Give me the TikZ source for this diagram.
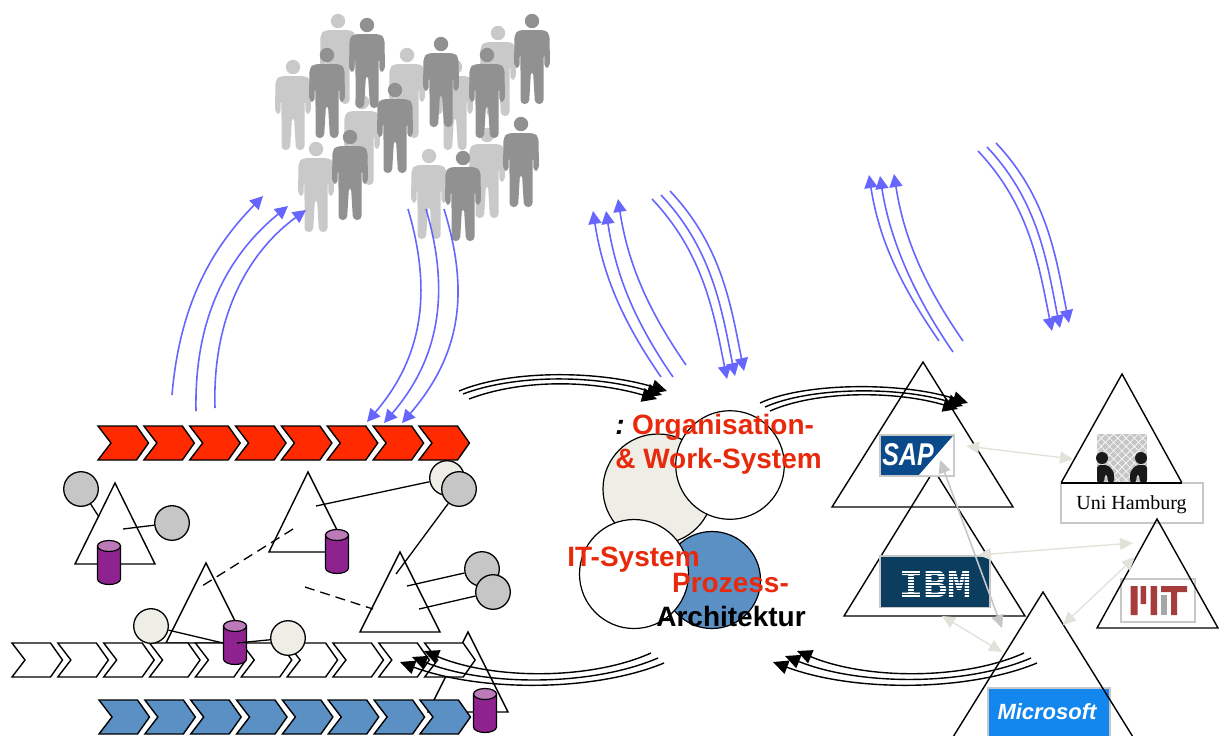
\documentclass[tikz,border=0pt]{standalone}
\usepackage{fontspec}
\setmainfont{Liberation Sans}
\setmonofont{Liberation Mono}
\newfontfamily\unifont{Liberation Serif}
\usetikzlibrary{arrows.meta}

\definecolor{chevred}{HTML}{FF2A00}
\definecolor{chevblue}{HTML}{5B90C5}
\definecolor{bubgrey}{HTML}{C6C6C6}
\definecolor{bubcream}{HTML}{EEEEE6}
\definecolor{dbbody}{HTML}{8E2390}
\definecolor{dbtop}{HTML}{BC7AB8}
\definecolor{flowblue}{HTML}{6666FF}
\definecolor{labelred}{HTML}{E8290B}
\definecolor{logoedge}{HTML}{C8C8C8}
\definecolor{sapblue}{HTML}{0A4A8A}
\definecolor{ibmblue}{HTML}{0B3D5F}
\definecolor{msblue}{HTML}{1487EE}
\definecolor{mitred}{HTML}{A63C3C}

\tikzset{
  triline/.style={draw=black, line width=0.7pt},
  chevline/.style={draw=black, line width=0.7pt},
  linkline/.style={draw=black, line width=0.65pt},
  dbline/.style={draw=black, line width=0.6pt},
  bub/.style={circle, draw=black, line width=0.65pt, minimum size=17.3pt, inner sep=0pt},
  bigbub/.style={circle, draw=black, line width=0.6pt, inner sep=0pt},
  flowup/.style={draw=flowblue, line width=0.8pt, -{Triangle[length=6.5pt,width=6.5pt]}},
  flowblack/.style={draw=black, line width=0.7pt, -{Triangle[length=7.5pt,width=7pt]}},
  linkcream/.style={draw=bubcream!95!black, line width=0.7pt, {Triangle[length=6.5pt,width=6pt]}-{Triangle[length=6.5pt,width=6pt]}},
  linkgrey/.style={draw=bubgrey, line width=0.8pt, {Triangle[length=6.5pt,width=6pt]}-{Triangle[length=6.5pt,width=6pt]}},
  biglabel/.style={font=\fontsize{14}{16}\selectfont\bfseries, inner sep=0pt},
}

% x, y of the head, colour
\newcommand{\person}[3]{
  \fill[#3] (#1,#2) circle [radius=7.2];
  \begin{scope}[shift={(#1,#2)}]
    \fill[#3, rounded corners=2pt] (-13,9) -- (13,9) -- (17.5,13) -- (18,46) -- (12.5,47.5) -- (12,24) -- (11.5,47) -- (11.5,83) -- (3,83) -- (1,50) -- (-1,50) -- (-3,83) -- (-11.5,83) -- (-11.5,47) -- (-12,24) -- (-12.5,47.5) -- (-18,46) -- (-17.5,13) -- cycle;
  \end{scope}
}

% fill, x, y, how many
\newcommand{\chevrons}[4]{
  \foreach \i in {1,...,#4} {
    \pgfmathsetmacro{\cx}{#2+45.85*(\i-1)}
    \draw[chevline, fill=#1] (\cx,#3) -- ++(38.5,0) -- ++(12,17) -- ++(-12,17) -- ++(-38.5,0) -- ++(13,-17) -- cycle;
  }
}

% x, y of the middle of the top
\newcommand{\dbcan}[2]{
  \draw[dbline, fill=dbbody] (#1,#2) ++(-11.5,0) -- ++(0,33) arc [start angle=180, end angle=0, x radius=11.5, y radius=5.5] -- ++(0,-33) -- cycle;
  \draw[dbline, fill=dbtop] (#1,#2) ellipse [x radius=11.5, y radius=5.5];
}

\begin{document}
\begin{tikzpicture}[x=0.5pt, y=-0.5pt]
\useasboundingbox (0,0) rectangle (1219,735);

\foreach \px/\py in {338/21, 293/67, 407/55, 498/33, 362/102, 455/67, 487/135, 316/149, 429/156}
  \person{\px}{\py}{bubgrey!95!white};
\foreach \px/\py in {367/25, 327/55, 441/44, 532/21, 487/55, 395/90, 350/137, 521/124, 463/158}
  \person{\px}{\py}{black!43};

\draw[triline] (115,483) -- (75,564) -- (155,564) -- cycle;
\draw[triline] (308,472) -- (269,552) -- (348,552) -- cycle;
\draw[triline] (206,563) -- (166,643) -- (246,643) -- cycle;
\draw[triline] (400,552) -- (360,632) -- (440,632) -- cycle;
\draw[triline] (468,632) -- (428,712) -- (508,712) -- cycle;

\chevrons{chevred}{98}{426}{8}
\chevrons{white}{12}{643}{10}
\chevrons{chevblue}{99}{700}{8}

\dbcan{109}{546}
\dbcan{337}{535}
\dbcan{235}{626}
\dbcan{485}{694}

\node (bubA) [bub, fill=bubgrey] at (81,489) {};
\node (bubB) [bub, fill=bubgrey] at (172,523) {};
\node (bubC) [bub, fill=bubcream] at (447,478) {};
\node (bubD) [bub, fill=bubgrey] at (459,489) {};
\node (bubE) [bub, fill=bubgrey] at (482,569) {};
\node (bubF) [bub, fill=bubgrey] at (493,592) {};
\node (bubG) [bub, fill=bubcream] at (151,626) {};
\node (bubH) [bub, fill=bubcream] at (288,638) {};

\coordinate (triA) at (99,517);
\coordinate (triB) at (123,529);
\coordinate (triC) at (316,506);
\coordinate (triD) at (396,574);
\coordinate (triE) at (407,586);
\coordinate (triF) at (419,609);
\coordinate (cylG) at (223,643);
\coordinate (cylH) at (237,643);
\coordinate (dashA) at (293,529);
\coordinate (dashB) at (202,586);
\coordinate (dashC) at (305,587);
\coordinate (dashD) at (373,609);

\draw[linkline] (bubA) -- (triA);
\draw[linkline] (bubB) -- (triB);
\draw[linkline] (bubC) -- (triC);
\draw[linkline] (bubD) -- (triD);
\draw[linkline] (bubE) -- (triE);
\draw[linkline] (bubF) -- (triF);
\draw[linkline] (bubG) -- (cylG);
\draw[linkline] (bubH) -- (cylH);
\draw[linkline, dash pattern=on 5pt off 3pt] (dashA) -- (dashB);
\draw[linkline, dash pattern=on 5pt off 3pt] (dashC) -- (dashD);

\node (orgbub) [bigbub, fill=bubcream, minimum size=55pt] at (658,489) {};
\node (workbub) [bigbub, fill=white, minimum size=54.3pt] at (730,465) {};
\node (procbub) [bigbub, fill=chevblue, minimum size=48.5pt] at (712,580) {};
\node (itbub) [bigbub, fill=white, minimum size=54.5pt] at (634,574) {};

\node (colon) [biglabel, font=\fontsize{14}{16}\selectfont\bfseries\itshape] at (620,427) {:};
\node (orglabel) [biglabel, text=labelred] at (723,427) {Organisation-};
\node (worklabel) [biglabel, text=labelred] at (718.5,461) {\& Work-System};
\node (itlabel) [biglabel, text=labelred] at (633.5,560) {IT-System};
\node (proclabel) [biglabel, text=labelred] at (730.5,583) {Prozess-};
\node (archlabel) [biglabel] at (731,616) {Architektur};

\draw[triline] (923,362) -- (832,507) -- (1013,507) -- cycle;
\draw[triline] (934,470) -- (844,616) -- (1025,616) -- cycle;
\draw[triline] (1122,374) -- (1061,483) -- (1182,483) -- cycle;

\draw[draw=logoedge, fill=sapblue, line width=0.6pt] (880,435) rectangle (954,476);
\fill[white] (953,436) -- (953,475) -- (919,475) -- cycle;
\node (saplogo) [text=white, inner sep=0pt, font=\fontsize{15}{15}\selectfont\bfseries\itshape] at (908,455) {\scalebox{0.83}[1.05]{SAP}};

\draw[draw=logoedge, fill=ibmblue, line width=0.6pt] (880,556) rectangle (990,607);
\node (ibmlogo) [text=white, inner sep=0pt, font=\fontsize{20}{20}\selectfont\ttfamily\bfseries] at (935,584) {IBM};
\foreach \sy in {558,561,...,606}
  \draw[ibmblue, line width=0.5pt] (881,\sy) -- (989,\sy);

\draw[draw=logoedge, fill=msblue, line width=0.6pt] (988,688) rectangle (1110,740);
\node (mslogo) [text=white, inner sep=0pt, font=\fontsize{11}{11}\selectfont\bfseries\itshape] at (1047,712) {Microsoft};
\draw[triline] (1043,592) -- (953,737) -- (1133,737) -- cycle;

\fill[bubgrey] (1097,434) rectangle (1147,483);
\foreach \gx in {1097,1105.3,...,1140}
  \foreach \gy in {434,442.3,...,476}
    \draw[white, line width=0.3pt] (\gx,\gy) -- ++(8.3,8.3) (\gx,\gy+8.3) -- ++(8.3,-8.3);
\fill[black!90] (1102,458) circle [radius=6] (1141,458) circle [radius=6];
\fill[black!90, rounded corners=1.5pt] (1097,483) -- (1097,465) -- (1108,465) -- (1114,472) -- (1114,483) -- (1108,483) -- (1107,474) -- (1105,474) -- (1104,483) -- cycle;
\fill[black!90, rounded corners=1.5pt] (1147,483) -- (1147,465) -- (1136,465) -- (1130,472) -- (1130,483) -- (1136,483) -- (1137,474) -- (1139,474) -- (1140,483) -- cycle;

\draw[draw=logoedge, fill=white, line width=0.7pt] (1061,483) rectangle (1203,523);
\draw[triline] (1061,483) -- (1182,483);
\node (unilabel) [inner sep=0pt, font=\fontsize{10}{12}\selectfont\unifont] at (1131.5,504.5) {Uni Hamburg};

\draw[draw=logoedge, fill=white, line width=0.7pt] (1121,579) rectangle (1195,622);
\fill[mitred] (1130.5,586) rectangle (1137.5,615) (1140.5,586) rectangle (1146,604) (1150.5,586) rectangle (1157,615);
\fill[mitred] (1161,586) rectangle (1187,592) (1171,592) rectangle (1177,615);
\fill[black!35] (1161,595) rectangle (1167,615);
\draw[triline] (1157,519) -- (1097,628) -- (1218,628) -- cycle;

\coordinate (sapE) at (966,446);
\coordinate (uniW) at (1073,459);
\coordinate (sapS) at (940,460);
\coordinate (msN) at (1002,628);
\coordinate (ibmE) at (978,555);
\coordinate (mitW) at (1133,543);
\coordinate (mitS) at (1135,557);
\coordinate (msE) at (1063,625);
\coordinate (ibmS) at (942,616);
\coordinate (msW) at (1002,652);
\draw[linkcream] (sapE) -- (uniW);
\draw[linkcream] (ibmE) -- (mitW);
\draw[linkcream] (mitS) -- (msE);
\draw[linkcream] (ibmS) -- (msW);
\draw[linkgrey] (sapS) -- (msN);

\coordinate (aAs) at (172,395); \coordinate (aAe) at (263,196);
\coordinate (aBs) at (196,411); \coordinate (aBe) at (288,206);
\coordinate (aCs) at (215,408); \coordinate (aCe) at (306,210);
\draw[flowup] (aAs) .. controls +(8,-95) and +(-48,49) .. (aAe);
\draw[flowup] (aBs) .. controls +(-2,-100) and +(-55,45) .. (aBe);
\draw[flowup] (aCs) .. controls +(-3,-95) and +(-55,40) .. (aCe);

\coordinate (bAs) at (408,209); \coordinate (bAe) at (367,422);
\coordinate (bBs) at (426,209); \coordinate (bBe) at (384,423);
\coordinate (bCs) at (444,209); \coordinate (bCe) at (402,423);
\draw[flowup] (bAs) .. controls +(22,75) and +(60,-70) .. (bAe);
\draw[flowup] (bBs) .. controls +(22,75) and +(60,-70) .. (bBe);
\draw[flowup] (bCs) .. controls +(24,78) and +(62,-72) .. (bCe);

\coordinate (cAs) at (661,377); \coordinate (cAe) at (593,211);
\coordinate (cBs) at (673,377); \coordinate (cBe) at (606,211);
\coordinate (cCs) at (686,365); \coordinate (cCe) at (618,199);
\draw[flowup] (cAs) .. controls +(-38,-55) and +(10,65) .. (cAe);
\draw[flowup] (cBs) .. controls +(-38,-55) and +(10,65) .. (cBe);
\draw[flowup] (cCs) .. controls +(-38,-55) and +(10,65) .. (cCe);

\coordinate (dAs) at (652,199); \coordinate (dAe) at (727,379);
\coordinate (dBs) at (661,195); \coordinate (dBe) at (735,376);
\coordinate (dCs) at (670,191); \coordinate (dCe) at (744,371);
\draw[flowup] (dAs) .. controls +(52,55) and +(-13,-65) .. (dAe);
\draw[flowup] (dBs) .. controls +(52,55) and +(-13,-65) .. (dBe);
\draw[flowup] (dCs) .. controls +(52,55) and +(-13,-65) .. (dCe);

\coordinate (eAs) at (939,341); \coordinate (eAe) at (869,175);
\coordinate (eBs) at (953,352); \coordinate (eBe) at (880,176);
\coordinate (eCs) at (963,341); \coordinate (eCe) at (894,174);
\draw[flowup] (eAs) .. controls +(-38,-55) and +(10,65) .. (eAe);
\draw[flowup] (eBs) .. controls +(-38,-55) and +(10,65) .. (eBe);
\draw[flowup] (eCs) .. controls +(-38,-55) and +(10,65) .. (eCe);

\coordinate (fAs) at (978,151); \coordinate (fAe) at (1052,331);
\coordinate (fBs) at (987,147); \coordinate (fBe) at (1060,328);
\coordinate (fCs) at (996,143); \coordinate (fCe) at (1069,323);
\draw[flowup] (fAs) .. controls +(52,55) and +(-13,-65) .. (fAe);
\draw[flowup] (fBs) .. controls +(52,55) and +(-13,-65) .. (fBe);
\draw[flowup] (fCs) .. controls +(52,55) and +(-13,-65) .. (fCe);

\coordinate (gAs) at (459,391); \coordinate (gAe) at (667,391);
\coordinate (gBs) at (463,394); \coordinate (gBe) at (662,395);
\coordinate (gCs) at (469,399); \coordinate (gCe) at (657,399);
\draw[flowblack] (gAs) .. controls +(50,-21) and +(-70,-21) .. (gAe);
\draw[flowblack] (gBs) .. controls +(50,-19) and +(-70,-21) .. (gBe);
\draw[flowblack] (gCs) .. controls +(50,-19) and +(-70,-20) .. (gCe);

\coordinate (hAs) at (760,403); \coordinate (hAe) at (968,403);
\coordinate (hBs) at (765,407); \coordinate (hBe) at (963,406);
\coordinate (hCs) at (770,411); \coordinate (hCe) at (958,409);
\draw[flowblack] (hAs) .. controls +(45,-21) and +(-65,-21) .. (hAe);
\draw[flowblack] (hBs) .. controls +(45,-20) and +(-65,-20) .. (hBe);
\draw[flowblack] (hCs) .. controls +(45,-20) and +(-65,-19) .. (hCe);

\coordinate (iAs) at (1024,653); \coordinate (iAe) at (797,651);
\coordinate (iBs) at (1031,658); \coordinate (iBe) at (785,656);
\coordinate (iCs) at (1037,663); \coordinate (iCe) at (773,662);
\draw[flowblack] (iAs) .. controls +(-60,27) and +(70,29) .. (iAe);
\draw[flowblack] (iBs) .. controls +(-65,28) and +(75,30) .. (iBe);
\draw[flowblack] (iCs) .. controls +(-70,29) and +(80,30) .. (iCe);

\coordinate (jAs) at (651,653); \coordinate (jAe) at (424,651);
\coordinate (jBs) at (658,658); \coordinate (jBe) at (412,657);
\coordinate (jCs) at (664,663); \coordinate (jCe) at (400,662);
\draw[flowblack] (jAs) .. controls +(-60,27) and +(70,29) .. (jAe);
\draw[flowblack] (jBs) .. controls +(-65,28) and +(75,30) .. (jBe);
\draw[flowblack] (jCs) .. controls +(-70,29) and +(80,30) .. (jCe);
\end{tikzpicture}
\end{document}
